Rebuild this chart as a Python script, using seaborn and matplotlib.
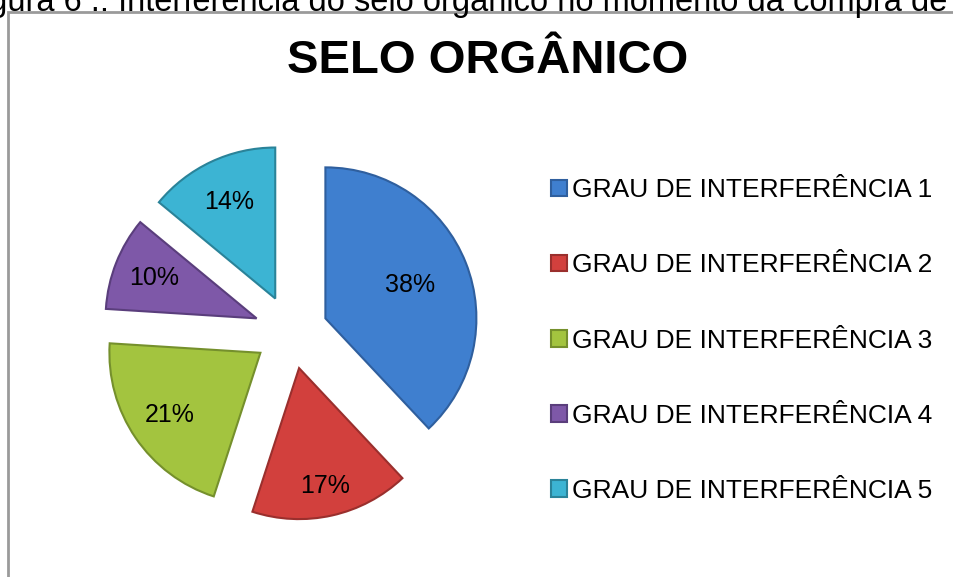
import matplotlib
matplotlib.use("Agg")
import numpy as np
import matplotlib.pyplot as plt
import seaborn as sns
from matplotlib.patches import Rectangle

categories = ['GRAU DE INTERFERÊNCIA 1', 'GRAU DE INTERFERÊNCIA 2', 'GRAU DE INTERFERÊNCIA 3',
              'GRAU DE INTERFERÊNCIA 4', 'GRAU DE INTERFERÊNCIA 5']
shares = [38, 17, 21, 10, 14]
slice_colors = ['#3f7fcf', '#d2403d', '#a3c43f', '#7e58a8', '#3cb4d3']
edge_colors = ['#2f5f9e', '#9a2f2d', '#75902c', '#5a3e7c', '#2a8399']
label_dist = [0.6, 0.8, 0.73, 0.73, 0.71]   # where each % label sits inside its slice
title = 'SELO ORGÂNICO'
caption = 'Figura 6 .: Interferência do selo orgânico no momento da compra de produtos'

sns.set_theme(style='white')
plt.rcParams['font.family'] = ['Liberation Sans', 'DejaVu Sans']
plt.rcParams['text.color'] = 'black'

W, H = 954, 577
fig = plt.figure(figsize=(W / 100, H / 100), dpi=100)

# chart frame (only left and top edges are visible in the crop)
fig.patches.append(Rectangle((8 / W, -0.1), 1.2, (H - 12) / H + 0.1, transform=fig.transFigure,
                             fill=False, edgecolor='#9a9a9a', linewidth=2))

# cropped caption above the frame
fig.text(-38 / W, 1 - 2 / H, caption, fontsize=23.5, ha='left', va='center', color='black')

# pie axes: centre at (291, 332) px, radius 151 px
r_px, cx, cy, half = 151, 291, 332, 1.6
size = 2 * half * r_px
ax = fig.add_axes([(cx - size / 2) / W, (H - cy - size / 2) / H, size / W, size / H])
explode = 0.245
wedges, texts, autotexts = ax.pie(
    shares, colors=sns.color_palette(slice_colors), explode=[explode] * len(shares),
    startangle=90, counterclock=False, autopct='%1.0f%%', pctdistance=0.6,
    wedgeprops=dict(linewidth=1.5), textprops=dict(fontsize=18, color='black'))
for w, ec, t, dist in zip(wedges, edge_colors, autotexts, label_dist):
    w.set_edgecolor(ec)
    mid = np.deg2rad((w.theta1 + w.theta2) / 2)
    x0, y0 = w.center
    t.set_position((x0 + dist * np.cos(mid), y0 + dist * np.sin(mid)))
ax.set_xlim(-half, half)
ax.set_ylim(-half, half)
ax.set_aspect('equal')
ax.axis('off')

fig.text(488 / W, 1 - 61 / H, title, fontsize=34, fontweight='bold', ha='center', va='center')

fig.legend(wedges, categories, loc='upper left', bbox_to_anchor=(538 / W, 1 - 165 / H),
           frameon=False, fontsize=19, labelspacing=1.94, handlelength=0.6, handleheight=0.6,
           handletextpad=0.2, borderpad=0)

fig.savefig('out.png', dpi=100)
